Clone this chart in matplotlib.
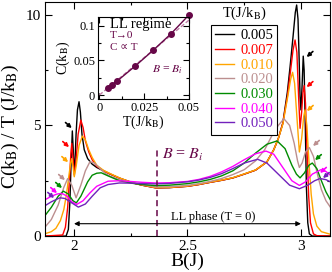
"""C/T vs magnetic field for several temperatures, with LL-regime inset."""
import matplotlib
matplotlib.use("Agg")
import matplotlib.pyplot as plt

plt.rcParams["font.family"] = ["Liberation Serif", "DejaVu Serif"]
plt.rcParams["mathtext.fontset"] = "stix"

# ----- data -----
temps = ["0.005", "0.007", "0.010", "0.020", "0.030", "0.040", "0.050"]
colors = ["#000000", "#ff0000", "#ffa500", "#bc8f8f", "#008b00", "#ff00ff", "#7221bc"]
maroon = "#670748"

b_005 = [1.87, 1.965, 1.975, 1.982, 1.987, 1.9925, 1.996, 2.0, 2.004, 2.009, 2.015, 2.022,
         2.028, 2.035, 2.045, 2.06, 2.08, 2.1, 2.13, 2.16, 2.2, 2.26, 2.3, 2.36, 2.42, 2.5,
         2.55, 2.6, 2.65, 2.7, 2.75, 2.8, 2.85, 2.88, 2.9, 2.92, 2.94, 2.952, 2.965, 2.975,
         2.981, 2.987, 2.992, 2.996, 3.0, 3.005, 3.01, 3.014, 3.019, 3.024, 3.03, 3.037,
         3.05, 3.13]
ct_005 = [0, 0, 0.3, 1.6, 3.3, 4.75, 4.0, 3.0, 3.3, 4.6, 5.7, 6.07,
          5.6, 4.6, 3.9, 3.5, 3.25, 3.1, 2.95, 2.8, 2.62, 2.4, 2.3, 2.18, 2.19, 2.25,
          2.33, 2.43, 2.52, 2.63, 2.8, 2.98, 3.35, 3.9, 4.4, 5.1, 6.5, 7.65, 9.0, 10.1,
          10.44, 9.8, 8.0, 6.3, 5.7, 6.8, 8.13, 7.5, 5.0, 2.2, 0.6, 0.1,
          0, 0]

b_007 = [1.87, 1.95, 1.962, 1.972, 1.98, 1.986, 1.99, 1.995, 2.001, 2.008, 2.018, 2.03,
         2.04, 2.05, 2.065, 2.08, 2.1, 2.13, 2.16, 2.2, 2.26, 2.3, 2.36, 2.42, 2.5, 2.55,
         2.6, 2.65, 2.7, 2.75, 2.8, 2.85, 2.88, 2.9, 2.92, 2.94, 2.952, 2.965, 2.974, 2.982,
         2.99, 2.996, 3.003, 3.009, 3.014, 3.02, 3.027, 3.034, 3.042, 3.055, 3.07, 3.13]
ct_007 = [0, 0.05, 0.4, 1.3, 2.6, 3.7, 4.19, 3.6, 2.76, 3.3, 4.6, 5.24,
          4.9, 4.3, 3.8, 3.45, 3.15, 2.95, 2.8, 2.62, 2.4, 2.3, 2.18, 2.19, 2.25, 2.33,
          2.43, 2.52, 2.63, 2.8, 2.98, 3.35, 3.9, 4.4, 5.1, 6.3, 7.3, 8.4, 8.86, 8.3,
          6.2, 4.87, 5.6, 6.5, 6.8, 6.0, 3.8, 1.8, 0.6, 0.1, 0.02, 0]

b_010 = [1.87, 1.9, 1.92, 1.94, 1.955, 1.967, 1.977, 1.985, 1.99, 1.996, 2.001, 2.01,
         2.022, 2.037, 2.05, 2.065, 2.08, 2.1, 2.13, 2.16, 2.2, 2.26, 2.3, 2.36, 2.42, 2.5,
         2.55, 2.6, 2.65, 2.7, 2.75, 2.8, 2.85, 2.88, 2.9, 2.92, 2.94, 2.955, 2.963, 2.972,
         2.982, 2.993, 3.003, 3.012, 3.018, 3.026, 3.035, 3.045, 3.055, 3.07, 3.09, 3.13]
ct_010 = [0.1, 0.2, 0.35, 0.7, 1.2, 1.9, 2.7, 3.3, 3.5, 3.1, 2.68, 3.2,
          4.1, 4.52, 4.35, 3.9, 3.55, 3.2, 2.97, 2.82, 2.63, 2.41, 2.31, 2.19, 2.2, 2.26,
          2.34, 2.44, 2.53, 2.64, 2.81, 2.99, 3.35, 3.9, 4.4, 5.05, 6.2, 7.1, 7.4, 6.9,
          5.4, 3.8, 4.4, 5.4, 5.7, 5.0, 3.4, 1.9, 1.0, 0.45, 0.2, 0.08]

b_020 = [1.87, 1.9, 1.93, 1.955, 1.972, 1.99, 2.009, 2.03, 2.05, 2.07, 2.09, 2.11, 2.135,
         2.16, 2.2, 2.26, 2.3, 2.36, 2.42, 2.5, 2.55, 2.6, 2.65, 2.7, 2.75, 2.8, 2.84, 2.87,
         2.9, 2.925, 2.95, 2.97, 2.985, 2.993, 3.005, 3.02, 3.037, 3.055, 3.07, 3.09, 3.11,
         3.13]
ct_020 = [0.38, 0.75, 1.4, 2.2, 2.6, 2.3, 1.73, 2.3, 2.95, 3.36, 3.3, 3.1, 2.85,
          2.7, 2.55, 2.4, 2.33, 2.22, 2.23, 2.29, 2.37, 2.47, 2.6, 2.78, 3.0, 3.4, 3.9, 4.5,
          5.0, 5.3, 5.0, 4.2, 3.4, 3.1, 3.3, 3.8, 4.0, 3.6, 2.9, 2.1, 1.6,
          1.3]

b_030 = [1.87, 1.9, 1.93, 1.953, 1.975, 1.995, 2.01, 2.03, 2.06, 2.08, 2.1, 2.12, 2.15,
         2.2, 2.26, 2.3, 2.36, 2.42, 2.5, 2.55, 2.6, 2.65, 2.7, 2.75, 2.8, 2.85, 2.895,
         2.93, 2.96, 2.98, 2.996, 3.015, 3.035, 3.05, 3.07, 3.09, 3.11, 3.13]
ct_030 = [0.9, 1.3, 1.8, 2.03, 1.9, 1.6, 1.5, 1.8, 2.45, 2.75, 2.84, 2.86, 2.72,
          2.5, 2.38, 2.33, 2.28, 2.3, 2.37, 2.45, 2.56, 2.72, 2.95, 3.3, 3.75, 4.15, 4.3,
          3.95, 3.2, 2.8, 2.63, 2.85, 3.2, 3.3, 3.05, 2.5, 2.0, 1.63]

b_040 = [1.87, 1.9, 1.925, 1.946, 1.97, 1.99, 2.012, 2.04, 2.07, 2.1, 2.15, 2.2, 2.26,
         2.3, 2.36, 2.42, 2.5, 2.55, 2.6, 2.65, 2.7, 2.75, 2.8, 2.846, 2.88, 2.92, 2.96,
         2.993, 3.02, 3.05, 3.088, 3.11, 3.13]
ct_040 = [1.63, 1.8, 1.9, 1.93, 1.8, 1.55, 1.43, 1.6, 1.95, 2.25, 2.48, 2.5, 2.46,
          2.43, 2.4, 2.41, 2.47, 2.56, 2.7, 2.9, 3.15, 3.45, 3.72, 3.84, 3.7, 3.1, 2.5,
          2.29, 2.45, 2.8, 3.0, 2.92, 2.75]

b_050 = [1.87, 1.9, 1.938, 1.96, 1.99, 2.019, 2.05, 2.08, 2.115, 2.15, 2.2, 2.26, 2.3,
         2.36, 2.42, 2.5, 2.55, 2.6, 2.65, 2.7, 2.75, 2.809, 2.85, 2.9, 2.95, 2.993, 3.03,
         3.06, 3.084, 3.11, 3.13]
ct_050 = [1.36, 1.55, 1.73, 1.7, 1.5, 1.31, 1.45, 1.8, 2.18, 2.33, 2.4, 2.39, 2.37,
          2.36, 2.38, 2.45, 2.53, 2.65, 2.82, 3.05, 3.3, 3.47, 3.3, 2.8, 2.3, 2.14, 2.3,
          2.5, 2.6, 2.55, 2.45]

fields = [b_005, b_007, b_010, b_020, b_030, b_040, b_050]
cts = [ct_005, ct_007, ct_010, ct_020, ct_030, ct_040, ct_050]

# arrow tips at the outer peaks (left: near Bc1, right: near Bc2)
arrow_left = [(1.990, 4.88), (1.978, 4.02), (1.974, 3.34), (1.960, 2.53),
              (1.947, 2.17), (1.925, 1.94), (1.912, 1.72)]
arrow_right = [(3.025, 8.09), (3.025, 6.73), (3.026, 5.65), (3.053, 4.07),
               (3.062, 3.43), (3.084, 2.85), (3.097, 2.62)]

b_i = 2.364

# inset: C at B = B_i
inset_t = [0.005, 0.007, 0.01, 0.02, 0.03, 0.04, 0.05]
inset_c = [0.0106, 0.0150, 0.0205, 0.0420, 0.0648, 0.0888, 0.116]
fit_t = [0.0, 0.05]
fit_c = [0.0, 0.1085]

# ----- main panel -----
fig = plt.figure(figsize=(3.32, 2.72), dpi=100)
ax = fig.add_axes([0.1355, 0.132, 0.8585, 0.861])

for b, ct, c, t in zip(fields, cts, colors, temps):
    ax.plot(b, ct, color=c, lw=1.0, label=t)

for (tip, c) in zip(arrow_left, colors):
    ax.annotate("", xy=tip, xytext=(-4.5, 4), textcoords="offset points",
                arrowprops=dict(arrowstyle="-|>", color=c, lw=1.2,
                                mutation_scale=5.5, shrinkA=0, shrinkB=0))
for (tip, c) in zip(arrow_right, colors):
    ax.annotate("", xy=tip, xytext=(4.5, 4), textcoords="offset points",
                arrowprops=dict(arrowstyle="-|>", color=c, lw=1.2,
                                mutation_scale=5.5, shrinkA=0, shrinkB=0))

ax.plot([b_i, b_i], [0, 3.95], color=maroon, lw=1.1, ls=(0, (4, 2.5)))
ax.text(2.478, 3.66, r"$B$ = $B_i$", color=maroon, fontsize=11.5,
        ha="center", va="center")

ax.annotate("", xy=(2.0, 0.56), xytext=(3.0, 0.56),
            arrowprops=dict(arrowstyle="<|-|>", color="k", lw=0.8,
                            mutation_scale=7, shrinkA=0, shrinkB=0))
ax.text(2.6145, 0.85, "LL phase (T = 0)", fontsize=9, ha="center", va="center")

ax.set_xlim(1.872, 3.128)
ax.set_ylim(0, 10.58)
ax.set_xticks([2, 2.5, 3])
ax.set_xticklabels(["2", "2.5", "3"])
ax.set_xticks([2.25, 2.75], minor=True)
ax.set_yticks([0, 5, 10])
ax.set_yticklabels(["0", "5", "10"])
ax.set_yticks([2.5, 7.5], minor=True)
ax.tick_params(which="both", direction="in", top=True, right=True, labelsize=11)
ax.tick_params(which="major", length=5, width=0.8, pad=3)
ax.tick_params(which="minor", length=2.5, width=0.8)
for s in ax.spines.values():
    s.set_linewidth(0.8)

ax.set_xlabel("B(J)", fontsize=14)
ax.xaxis.set_label_coords(0.5, -0.07)
ax.set_ylabel(r"C(k$_\mathrm{B}$) / T (J/k$_\mathrm{B}$)", fontsize=14)
ax.yaxis.set_label_coords(-0.085, 0.47)

leg = ax.legend(loc="upper left", bbox_to_anchor=(0.582, 0.902), fontsize=10.5,
                labelcolor="linecolor", fancybox=False, framealpha=1,
                edgecolor="k", borderpad=0.3, handlelength=1.3,
                handletextpad=0.4, labelspacing=0.1, borderaxespad=0)
leg.get_frame().set_linewidth(0.8)
ax.text(0.70, 0.953, r"T(J/k$_\mathrm{B}$)", transform=ax.transAxes,
        fontsize=10.5, ha="center", va="center")

# ----- inset -----
ins = fig.add_axes([0.2952, 0.636, 0.274, 0.3015])
ins.plot(fit_t, fit_c, color="#c080a8", lw=1.0, ls=(0, (3, 1.5)))
ins.plot(inset_t, inset_c, color=maroon, lw=1.0)
ins.plot(inset_t, inset_c, "o", color=maroon, ms=4, clip_on=False)
ins.set_xlim(-0.0008, 0.05)
ins.set_ylim(-0.0058, 0.113)
ins.set_xticks([0, 0.025, 0.05])
ins.set_xticklabels(["0", "0.025", "0.05"])
ins.set_xticks([0.0125, 0.0375], minor=True)
ins.set_yticks([0, 0.05, 0.1])
ins.set_yticklabels(["0", "0.05", "0.1"])
ins.set_yticks([0.025, 0.075], minor=True)
ins.tick_params(which="both", direction="in", top=True, right=True, labelsize=9)
ins.tick_params(which="major", length=4, width=0.8, pad=2)
ins.tick_params(which="minor", length=2, width=0.8)
for s in ins.spines.values():
    s.set_linewidth(0.8)
ins.set_xlabel(r"T(J/k$_\mathrm{B}$)", fontsize=10, labelpad=0)
ins.set_ylabel(r"C(k$_\mathrm{B}$)", fontsize=10, labelpad=1)

ins.text(0.13, 0.985, "LL regime", transform=ins.transAxes, fontsize=10.5,
         ha="left", va="top")
ins.text(0.13, 0.775, "T→0", transform=ins.transAxes, fontsize=8,
         color=maroon, ha="left", va="center", family=["Liberation Serif", "DejaVu Sans"])
ins.text(0.13, 0.625, "C ∝ T", transform=ins.transAxes, fontsize=8,
         color=maroon, ha="left", va="center", family=["Liberation Serif", "DejaVu Sans"])
ins.text(0.593, 0.354, r"$B$ = $B_i$", transform=ins.transAxes, fontsize=8.5,
         color=maroon, ha="left", va="center")

fig.savefig("out.png", dpi=100)
